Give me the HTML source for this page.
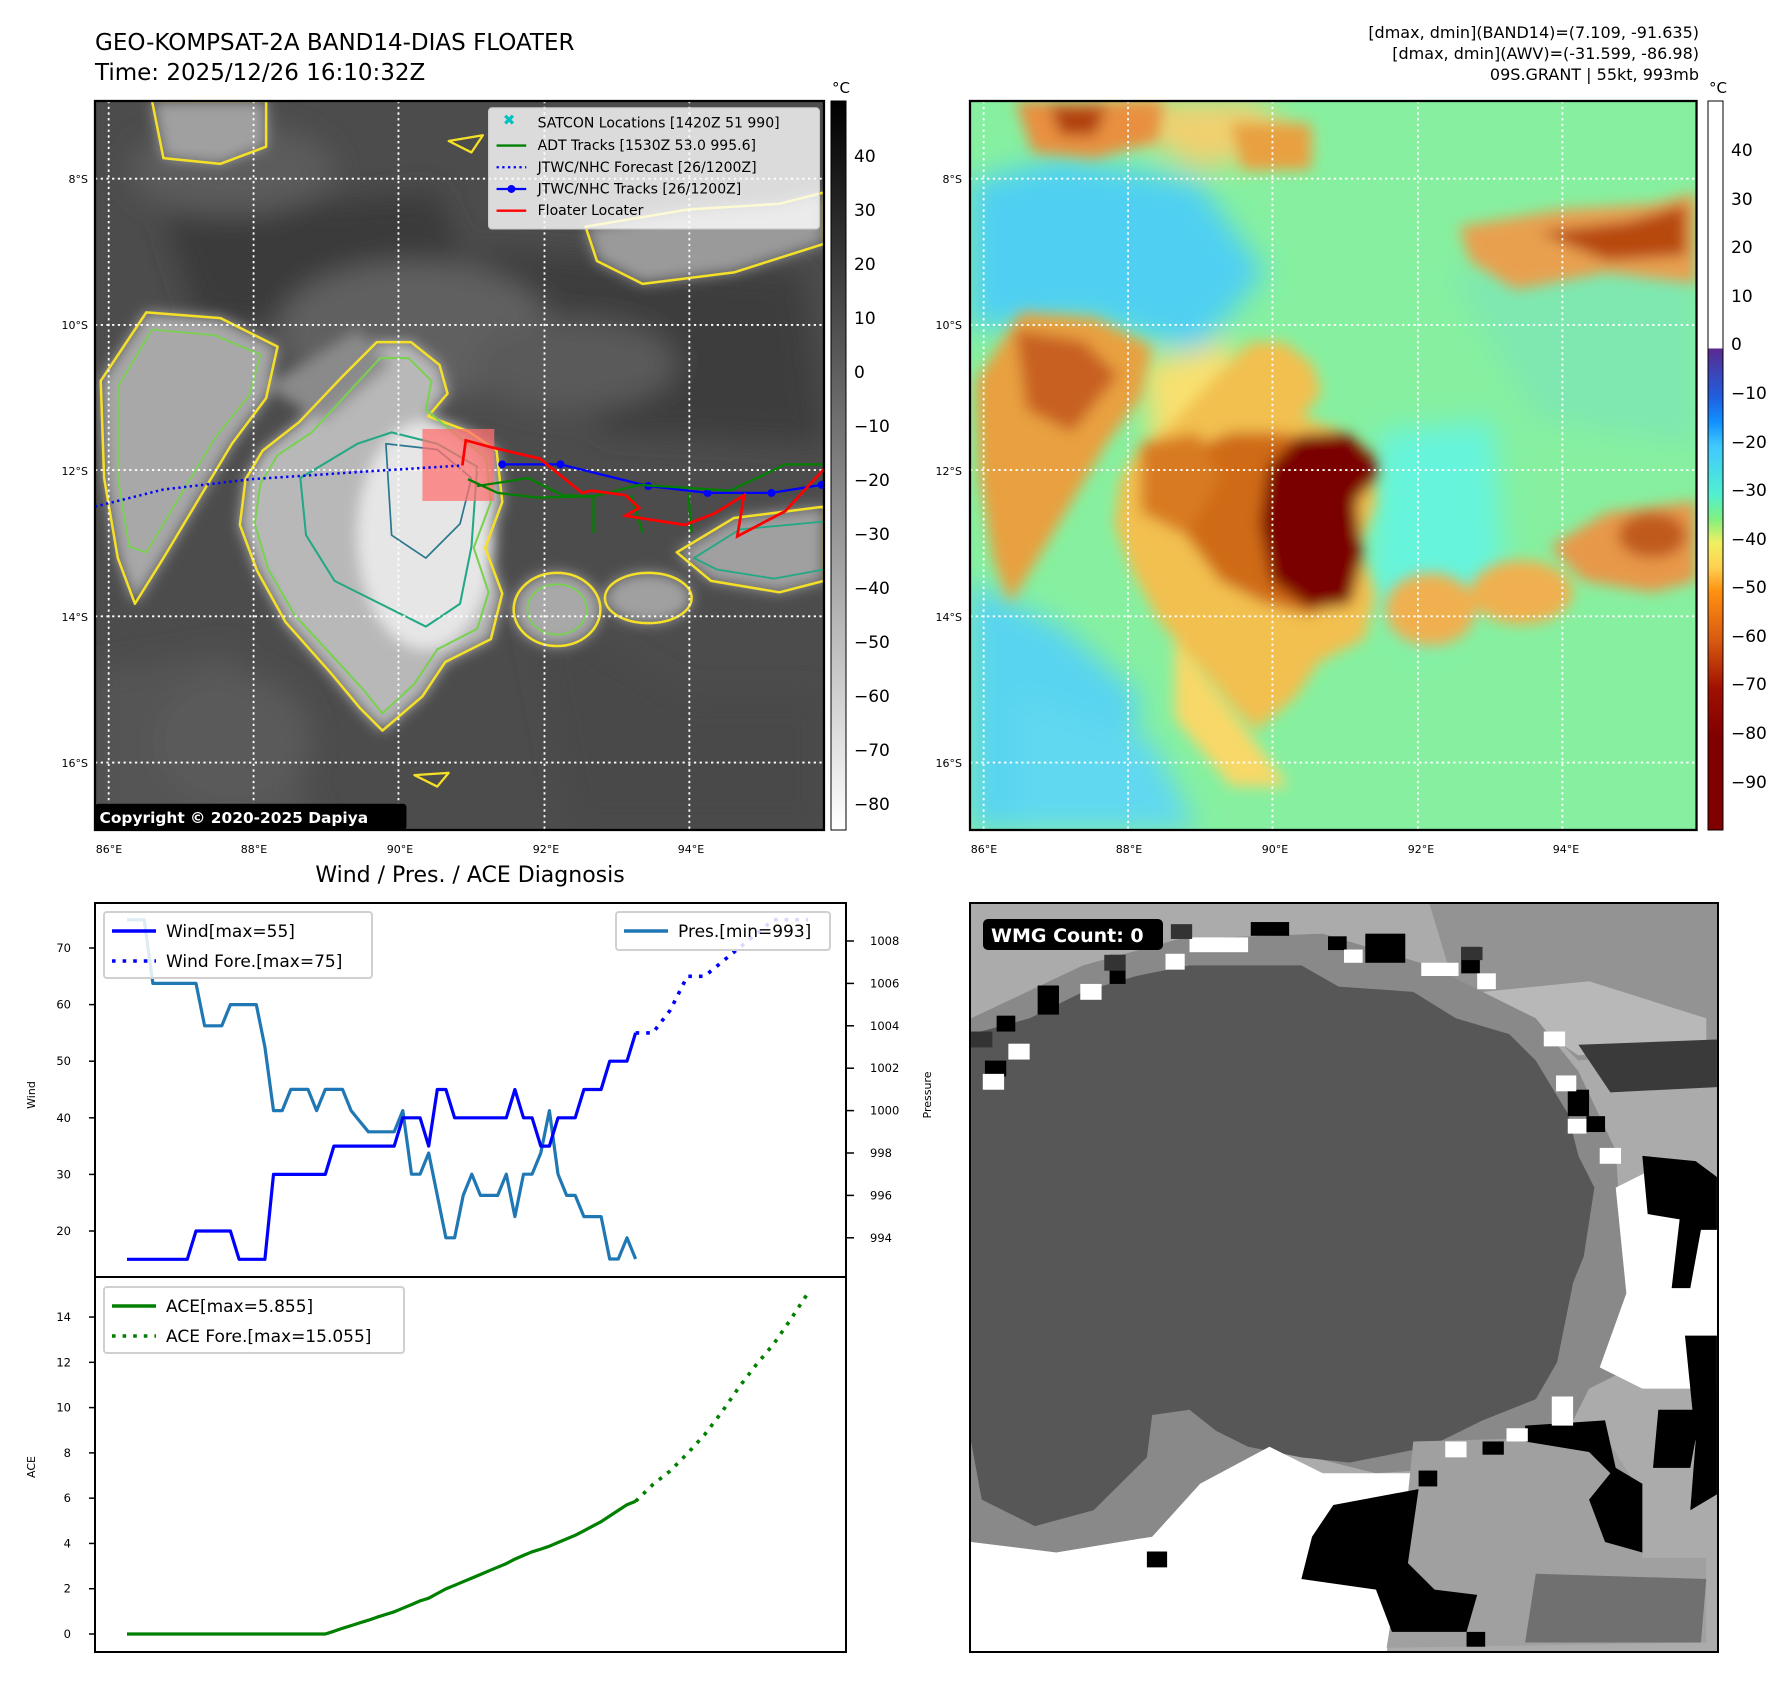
<!DOCTYPE html>
<html><head><meta charset="utf-8">
<style>
html,body{margin:0;padding:0;background:#fff;}
svg{display:block;font-family:"DejaVu Sans","Liberation Sans",sans-serif;}
</style></head>
<body>
<svg id="root" width="1788" height="1690" viewBox="0 0 1788 1690" xmlns="http://www.w3.org/2000/svg">
<defs>
  <filter id="soft" x="-20%" y="-20%" width="140%" height="140%"><feGaussianBlur stdDeviation="6"/></filter>
  <filter id="soft2" x="-20%" y="-20%" width="140%" height="140%"><feGaussianBlur stdDeviation="12"/></filter>
  <linearGradient id="cbarGray" x1="0" y1="1" x2="0" y2="0">
    <stop offset="0" stop-color="#ffffff"/><stop offset="1" stop-color="#000000"/>
  </linearGradient>
  <linearGradient id="cbarColor" x1="0" y1="0" x2="0" y2="1">
    <stop offset="0" stop-color="#ffffff"/>
    <stop offset="0.339" stop-color="#ffffff"/>
    <stop offset="0.34" stop-color="#5a2a90"/>
    <stop offset="0.406" stop-color="#1f5fe0"/>
    <stop offset="0.44" stop-color="#1090ff"/>
    <stop offset="0.473" stop-color="#40c8ff"/>
    <stop offset="0.54" stop-color="#50f0d0"/>
    <stop offset="0.573" stop-color="#80f080"/>
    <stop offset="0.606" stop-color="#f0f060"/>
    <stop offset="0.64" stop-color="#ffd050"/>
    <stop offset="0.673" stop-color="#ff9010"/>
    <stop offset="0.74" stop-color="#d85a10"/>
    <stop offset="0.806" stop-color="#a01000"/>
    <stop offset="0.873" stop-color="#800000"/>
    <stop offset="1" stop-color="#800000"/>
  </linearGradient>
  <clipPath id="mapClip"><rect x="0" y="0" width="639" height="638"/></clipPath>
  <clipPath id="wmgClip"><rect x="38" y="82" width="1404" height="1416"/></clipPath>
</defs>

<!-- Titles -->
<text x="95" y="50" font-size="23">GEO-KOMPSAT-2A BAND14-DIAS FLOATER</text>
<text x="95" y="80" font-size="23">Time: 2025/12/26 16:10:32Z</text>
<g font-size="16" text-anchor="end">
  <text x="1699" y="38">[dmax, dmin](BAND14)=(7.109, -91.635)</text>
  <text x="1699" y="59">[dmax, dmin](AWV)=(-31.599, -86.98)</text>
  <text x="1699" y="80">09S.GRANT | 55kt, 993mb</text>
</g>

<!-- LEFT MAP -->
<g transform="translate(95,101) scale(1.1408,1.1426)">
  <g clip-path="url(#mapClip)">
    <rect x="0" y="0" width="639" height="638" fill="#4c4c4c"/>
    <g filter="url(#soft2)">
      <path d="M60,100 L300,80 L340,180 L200,200 L90,190 Z" fill="#3a3a3a"/>
      <path d="M330,130 L620,150 L639,300 L450,290 L380,220 Z" fill="#3c3c3c"/>
      <path d="M0,500 L120,480 L200,638 L0,638 Z" fill="#555"/>
      <path d="M380,440 L520,520 L639,520 L639,638 L420,638 Z" fill="#484848"/>
      <ellipse cx="280" cy="200" rx="120" ry="60" fill="#606060"/>
      <ellipse cx="120" cy="60" rx="90" ry="40" fill="#5c5c5c"/>
      <ellipse cx="420" cy="230" rx="90" ry="40" fill="#5a5a5a"/>
      <ellipse cx="120" cy="560" rx="70" ry="60" fill="#5a5a5a"/>
    </g>
    <g filter="url(#soft)">
      <path d="M147,306 L179,281 L217,241 L247,211 L277,211 L302,231 L309,256 L292,276 L327,289 L352,306 L357,351 L342,391 L357,431 L347,471 L307,491 L287,521 L252,551 L232,531 L207,501 L167,456 L142,411 L127,371 L132,331 Z" fill="#b8b8b8"/>
      <ellipse cx="290" cy="380" rx="60" ry="100" fill="#e6e6e6"/>
      <path d="M5,245 L45,185 L110,190 L160,215 L150,260 L120,300 L90,350 L60,400 L35,440 L20,400 L8,330 Z" fill="#a8a8a8"/>
      <path d="M50,0 L150,0 L150,40 L110,55 L60,50 Z" fill="#a0a0a0"/>
      <path d="M430,110 L520,95 L600,90 L639,80 L639,125 L560,150 L480,160 L440,140 Z" fill="#9a9a9a"/>
      <ellipse cx="405" cy="445" rx="38" ry="32" fill="#a8a8a8"/>
      <ellipse cx="485" cy="435" rx="38" ry="22" fill="#a0a0a0"/>
      <path d="M510,395 L560,365 L639,355 L639,420 L600,430 L540,420 Z" fill="#a0a0a0"/>
      <path d="M150,250 L230,200 L260,230 L200,280 Z" fill="#8a8a8a"/>
    </g>
    <g fill="none" stroke-linejoin="round">
      <path d="M147,306 L179,281 L217,241 L247,211 L277,211 L302,231 L309,256 L292,276 L327,289 L352,306 L357,351 L342,391 L357,431 L347,471 L307,491 L287,521 L252,551 L232,531 L207,501 L167,456 L142,411 L127,371 L132,331 Z" stroke="#f5e028" stroke-width="2.2"/>
      <path d="M160,310 L190,290 L225,252 L250,225 L275,225 L295,245 L290,270 L320,295 L343,312 L347,351 L332,391 L345,430 L335,462 L300,480 L280,510 L252,536 L235,515 L212,490 L175,450 L152,410 L140,370 L145,335 Z" stroke="#7ad151" stroke-width="1.8"/>
      <path d="M180,330 L230,300 L260,290 L300,300 L335,320 L330,390 L320,440 L290,460 L250,440 L210,420 L185,380 Z" stroke="#22a884" stroke-width="1.8"/>
      <path d="M255,300 L300,305 L330,330 L320,370 L290,400 L260,380 Z" stroke="#2a788e" stroke-width="1.5"/>
      <path d="M5,245 L45,185 L110,190 L160,215 L150,260 L120,300 L90,350 L60,400 L35,440 L20,400 L8,330 Z" stroke="#f5e028" stroke-width="2.2"/>
      <path d="M20,250 L50,200 L105,205 L145,222 L135,258 L105,295 L75,345 L45,395 L30,390 L20,330 Z" stroke="#7ad151" stroke-width="1.6"/>
      <path d="M50,0 L150,0 L150,40 L110,55 L60,50 Z" stroke="#f5e028" stroke-width="2.2"/>
      <path d="M430,110 L520,95 L600,90 L639,80 L639,125 L560,150 L480,160 L440,140 Z" stroke="#f5e028" stroke-width="2.2"/>
      <ellipse cx="405" cy="445" rx="38" ry="32" stroke="#f5e028" stroke-width="2.2"/>
      <ellipse cx="405" cy="445" rx="26" ry="22" stroke="#7ad151" stroke-width="1.6"/>
      <ellipse cx="485" cy="435" rx="38" ry="22" stroke="#f5e028" stroke-width="2.2"/>
      <path d="M510,395 L560,365 L639,355 L639,420 L600,430 L540,420 Z" stroke="#f5e028" stroke-width="2.2"/>
      <path d="M525,400 L565,375 L639,368 L639,410 L595,418 L545,410 Z" stroke="#22a884" stroke-width="1.6"/>
      <path d="M310,35 L340,30 L330,45 Z" stroke="#f5e028" stroke-width="2"/>
      <path d="M280,590 L310,588 L300,600 Z" stroke="#f5e028" stroke-width="2"/>
    </g>
    <g stroke="#fff" stroke-width="1.6" stroke-dasharray="2,3">
      <line x1="12" y1="0" x2="12" y2="638"/><line x1="139" y1="0" x2="139" y2="638"/><line x1="266" y1="0" x2="266" y2="638"/><line x1="394" y1="0" x2="394" y2="638"/><line x1="521" y1="0" x2="521" y2="638"/>
      <line x1="0" y1="68" x2="639" y2="68"/><line x1="0" y1="196" x2="639" y2="196"/><line x1="0" y1="323" x2="639" y2="323"/><line x1="0" y1="451" x2="639" y2="451"/><line x1="0" y1="579" x2="639" y2="579"/>
    </g>
    <rect x="287" y="287" width="63" height="63" fill="#ff7070" fill-opacity="0.75"/>
    <path d="M0,355 L60,340 L137,331 L257,323 L322,319" fill="none" stroke="#0000ff" stroke-width="2.2" stroke-dasharray="2,3"/>
    <path d="M357,318 L408,318 L485,337 L537,343 L593,343 L637,336" fill="none" stroke="#0000ff" stroke-width="2"/>
    <g fill="#0000ff"><circle cx="357" cy="318" r="3.5"/><circle cx="408" cy="318" r="3.5"/><circle cx="485" cy="337" r="3.5"/><circle cx="537" cy="343" r="3.5"/><circle cx="593" cy="343" r="3.5"/><circle cx="637" cy="336" r="3.5"/></g>
    <path d="M327,331 L353,343 L387,347 L437,346 L477,336 L557,341 L605,318 L639,318 M335,337 L380,330 L410,345 L437,346 L437,378 M470,345 L480,378 M520,343 L523,378" fill="none" stroke="#008000" stroke-width="2"/>
    <path d="M322,319 L325,297 L347,303 L390,313 L427,343 L435,341 L465,345 L477,356 L465,363 L517,371 L543,361 L569,345 L563,381 L605,359 L639,322" fill="none" stroke="#ff0000" stroke-width="2.4"/>
    <g>
      <rect x="345" y="6" width="290" height="106" rx="3" fill="#fff" fill-opacity="0.8" stroke="#ccc"/>
      <g font-size="12.3">
        <text x="363" y="21" fill="#00c0c0" font-weight="bold" text-anchor="middle" font-size="13">✖</text>
        <text x="388" y="23">SATCON Locations [1420Z 51 990]</text>
        <line x1="352" y1="39" x2="378" y2="39" stroke="#008000" stroke-width="2"/>
        <text x="388" y="43">ADT Tracks [1530Z 53.0 995.6]</text>
        <line x1="352" y1="58" x2="378" y2="58" stroke="#0000ff" stroke-width="2" stroke-dasharray="2,3"/>
        <text x="388" y="62">JTWC/NHC Forecast [26/1200Z]</text>
        <line x1="352" y1="77" x2="378" y2="77" stroke="#0000ff" stroke-width="2"/><circle cx="365" cy="77" r="3.5" fill="#0000ff"/>
        <text x="388" y="81">JTWC/NHC Tracks [26/1200Z]</text>
        <line x1="352" y1="96" x2="378" y2="96" stroke="#ff0000" stroke-width="2"/>
        <text x="388" y="100">Floater Locater</text>
      </g>
    </g>
    <rect x="0" y="615" width="273" height="23" rx="3" fill="#000"/>
    <text x="4" y="632" fill="#fff" font-size="13.5" font-weight="bold">Copyright © 2020-2025 Dapiya</text>
  </g>
  <rect x="0" y="0" width="639" height="638" fill="none" stroke="#000" stroke-width="2"/>
</g>

<g font-size="11" text-anchor="end">
  <text x="88" y="183">8°S</text><text x="88" y="329">10°S</text><text x="88" y="475">12°S</text><text x="88" y="621">14°S</text><text x="88" y="767">16°S</text>
</g>
<g font-size="11" text-anchor="middle">
  <text x="109" y="853">86°E</text><text x="254" y="853">88°E</text><text x="400" y="853">90°E</text><text x="546" y="853">92°E</text><text x="691" y="853">94°E</text>
</g>
<g>
  <rect x="831" y="101" width="15" height="729" fill="url(#cbarGray)" stroke="#000" stroke-width="1"/>
  <text x="841" y="93" font-size="15" text-anchor="middle">°C</text>
  <g font-size="17">
    <text x="854" y="162">40</text><text x="854" y="216">30</text><text x="854" y="270">20</text><text x="854" y="324">10</text><text x="854" y="378">0</text>
    <text x="854" y="432">−10</text><text x="854" y="486">−20</text><text x="854" y="540">−30</text><text x="854" y="594">−40</text><text x="854" y="648">−50</text>
    <text x="854" y="702">−60</text><text x="854" y="756">−70</text><text x="854" y="810">−80</text>
  </g>
</g>

<!-- RIGHT MAP -->
<g transform="translate(970,101) scale(1.137,1.1426)">
  <g clip-path="url(#mapClip)">
    <rect x="0" y="0" width="639" height="638" fill="#86f0a0"/>
    <g filter="url(#soft2)">
      <path d="M0,70 L80,50 L200,70 L260,150 L200,220 L100,190 L0,200 Z" fill="#50d0f2"/>
      <path d="M0,420 L80,460 L150,520 L130,638 L0,638 Z" fill="#58d4f0"/>
      <path d="M40,520 L160,560 L200,638 L40,638 Z" fill="#60d8f0"/>
      <path d="M360,290 L460,280 L470,420 L400,480 L350,430 Z" fill="#66f4dc"/>
      <path d="M420,150 L639,120 L639,300 L500,280 Z" fill="#7ee8b0"/>
      <path d="M150,230 L230,210 L260,300 L200,340 L160,300 Z" fill="#f8e070"/>
      <path d="M100,0 L250,0 L300,40 L200,60 Z" fill="#f0d070"/>
    </g>
    <g filter="url(#soft)">
      <path d="M147,306 L179,281 L217,241 L247,211 L277,211 L302,231 L309,256 L292,276 L327,289 L352,306 L357,351 L342,391 L357,431 L347,471 L307,491 L287,521 L252,551 L232,531 L207,501 L167,456 L142,411 L127,371 L132,331 Z" fill="#f2c050"/>
      <path d="M180,310 L230,290 L270,290 L330,300 L340,360 L330,420 L300,450 L260,440 L220,420 L190,380 Z" fill="#cf6a18"/>
      <path d="M150,300 L200,290 L220,330 L190,380 L150,360 Z" fill="#d87a20"/>
      <path d="M262,320 L290,292 L330,290 L355,310 L358,330 L340,350 L345,400 L335,440 L300,445 L265,420 L255,370 Z" fill="#7a0000"/>
      <path d="M5,245 L45,185 L110,190 L160,215 L150,260 L120,300 L90,350 L60,400 L35,440 L20,400 L8,330 Z" fill="#e8a040"/>
      <path d="M40,200 L100,210 L130,240 L90,290 L50,270 Z" fill="#c86020"/>
      <path d="M40,0 L170,0 L165,35 L110,50 L55,45 Z" fill="#e89040"/>
      <path d="M70,5 L120,5 L110,30 L80,30 Z" fill="#b04010"/>
      <path d="M230,20 L300,20 L300,60 L240,60 Z" fill="#e8a040"/>
      <path d="M430,110 L520,95 L600,90 L639,80 L639,160 L560,150 L480,165 L440,140 Z" fill="#e8a050"/>
      <path d="M500,115 L580,105 L630,90 L630,135 L560,140 Z" fill="#b84a10"/>
      <ellipse cx="405" cy="445" rx="40" ry="32" fill="#f0b050"/>
      <ellipse cx="485" cy="430" rx="45" ry="28" fill="#f0b050"/>
      <path d="M510,390 L560,360 L639,350 L639,420 L600,430 L540,420 Z" fill="#e89848"/>
      <ellipse cx="600" cy="380" rx="30" ry="20" fill="#c05a1a"/>
      <path d="M180,470 L250,560 L280,600 L230,600 L180,540 Z" fill="#f8d868"/>
    </g>
    <g stroke="#fff" stroke-width="1.6" stroke-dasharray="2,3">
      <line x1="12" y1="0" x2="12" y2="638"/><line x1="139" y1="0" x2="139" y2="638"/><line x1="266" y1="0" x2="266" y2="638"/><line x1="394" y1="0" x2="394" y2="638"/><line x1="521" y1="0" x2="521" y2="638"/>
      <line x1="0" y1="68" x2="639" y2="68"/><line x1="0" y1="196" x2="639" y2="196"/><line x1="0" y1="323" x2="639" y2="323"/><line x1="0" y1="451" x2="639" y2="451"/><line x1="0" y1="579" x2="639" y2="579"/>
    </g>
  </g>
  <rect x="0" y="0" width="639" height="638" fill="none" stroke="#000" stroke-width="2"/>
</g>
<g font-size="11" text-anchor="end">
  <text x="962" y="183">8°S</text><text x="962" y="329">10°S</text><text x="962" y="475">12°S</text><text x="962" y="621">14°S</text><text x="962" y="767">16°S</text>
</g>
<g font-size="11" text-anchor="middle">
  <text x="984" y="853">86°E</text><text x="1129" y="853">88°E</text><text x="1275" y="853">90°E</text><text x="1421" y="853">92°E</text><text x="1566" y="853">94°E</text>
</g>
<g>
  <rect x="1708" y="101" width="15" height="729" fill="url(#cbarColor)" stroke="#000" stroke-width="1"/>
  <text x="1718" y="93" font-size="15" text-anchor="middle">°C</text>
  <g font-size="17">
    <text x="1731" y="156">40</text><text x="1731" y="205">30</text><text x="1731" y="253">20</text><text x="1731" y="302">10</text><text x="1731" y="350">0</text>
    <text x="1731" y="399">−10</text><text x="1731" y="448">−20</text><text x="1731" y="496">−30</text><text x="1731" y="545">−40</text><text x="1731" y="593">−50</text>
    <text x="1731" y="642">−60</text><text x="1731" y="690">−70</text><text x="1731" y="739">−80</text><text x="1731" y="788">−90</text>
  </g>
</g>

<!-- BOTTOM LEFT: diagnosis -->
<text x="470" y="882" font-size="22" text-anchor="middle">Wind / Pres. / ACE Diagnosis</text>
<g id="diag"></g>

<!-- BOTTOM RIGHT: WMG -->
<g>
<svg x="970" y="903" width="748" height="749" viewBox="38 82 1404 1416" preserveAspectRatio="none">
  <g clip-path="url(#wmgClip)">
    <rect x="38" y="82" width="1404" height="1416" fill="#ababab"/>
    <path d="M900,82 L1442,82 L1442,350 L1180,380 L1100,300 L950,250 Z" fill="#939393"/>
    <path d="M1000,250 L1200,230 L1420,300 L1420,350 L1180,370 Z" fill="#b8b8b8"/>
    <path d="M1180,350 L1440,340 L1440,430 L1240,440 Z" fill="#3a3a3a"/>
    <path d="M40,300 L250,200 L430,150 L700,140 L900,200 L1100,300 L1180,400 L1250,550 L1260,700 L1280,850 L1300,950 L1200,1000 L1150,1100 L950,1150 L800,1160 L600,1110 L470,1180 L380,1280 L200,1310 L40,1290 Z" fill="#898989"/>
    <path d="M40,330 L150,300 L250,250 L350,220 L450,200 L660,200 L730,240 L870,250 L950,300 L1050,330 L1100,380 L1130,430 L1160,480 L1180,560 L1210,620 L1190,750 L1170,800 L1140,950 L1100,1020 L1000,1060 L900,1110 L750,1140 L660,1130 L560,1110 L500,1080 L450,1040 L380,1050 L370,1130 L270,1230 L160,1260 L60,1210 L40,1100 Z" fill="#575757"/>
    <path d="M1250,620 L1330,580 L1440,600 L1440,1000 L1300,1000 L1220,960 L1270,820 Z" fill="#ffffff"/>
    <path d="M1300,560 L1400,570 L1440,600 L1440,700 L1410,700 L1390,810 L1355,810 L1370,680 L1310,670 Z" fill="#000"/>
    <path d="M1380,900 L1440,900 L1440,1200 L1390,1230 L1400,1100 Z" fill="#000"/>
    <path d="M40,1290 L200,1310 L380,1280 L470,1180 L600,1110 L700,1160 L880,1160 L820,1498 L38,1498 Z" fill="#ffffff"/>
    <path d="M870,1100 L1230,1090 L1300,1200 L1300,1320 L1420,1320 L1420,1480 L820,1490 L850,1300 Z" fill="#a0a0a0"/>
    <path d="M1100,1350 L1420,1360 L1410,1480 L1080,1480 Z" fill="#707070"/>
    <path d="M720,1220 L880,1190 L860,1330 L910,1380 L990,1390 L970,1460 L830,1460 L800,1380 L660,1360 L680,1280 Z" fill="#000"/>
    <path d="M1080,1070 L1230,1060 L1250,1150 L1300,1180 L1300,1310 L1230,1290 L1200,1210 L1240,1160 L1200,1120 L1080,1100 Z" fill="#000"/>
    <path d="M1330,1040 L1410,1040 L1390,1150 L1320,1150 Z" fill="#000"/>
    <g fill="#000">
      <rect x="565" y="118" width="72" height="26"/><rect x="710" y="145" width="35" height="26"/><rect x="780" y="140" width="75" height="55"/><rect x="300" y="180" width="30" height="55"/><rect x="165" y="238" width="40" height="55"/><rect x="88" y="295" width="35" height="30"/><rect x="66" y="380" width="40" height="30"/><rect x="960" y="165" width="35" height="50"/><rect x="1160" y="435" width="40" height="50"/><rect x="1195" y="485" width="35" height="30"/><rect x="1000" y="1100" width="40" height="25"/><rect x="370" y="1308" width="38" height="30"/><rect x="970" y="1460" width="35" height="28"/><rect x="880" y="1155" width="35" height="30"/>
    </g>
    <g fill="#fff">
      <rect x="450" y="147" width="110" height="28"/><rect x="740" y="170" width="35" height="25"/><rect x="885" y="195" width="70" height="25"/><rect x="990" y="215" width="35" height="30"/><rect x="405" y="178" width="36" height="30"/><rect x="245" y="235" width="40" height="30"/><rect x="110" y="348" width="40" height="30"/><rect x="62" y="405" width="40" height="30"/><rect x="1115" y="325" width="40" height="28"/><rect x="1138" y="408" width="38" height="30"/><rect x="1160" y="490" width="35" height="28"/><rect x="1220" y="545" width="40" height="30"/><rect x="1130" y="1015" width="40" height="55"/><rect x="930" y="1100" width="40" height="30"/><rect x="1045" y="1075" width="40" height="25"/>
    </g>
    <g fill="#333"><rect x="415" y="122" width="40" height="28"/><rect x="290" y="180" width="40" height="30"/><rect x="40" y="325" width="40" height="30"/><rect x="960" y="165" width="40" height="25"/></g>
  </g>
</svg>
<rect x="970" y="903" width="748" height="749" fill="none" stroke="#000" stroke-width="2"/>
<rect x="983" y="919" width="180" height="31" rx="5" fill="#000"/>
<text x="991" y="942" fill="#fff" font-size="19" font-weight="bold">WMG Count: 0</text>
</g>

<script>
// ---- chart data (time index = 6-hourly step) ----
const windIdx = [0,1,2,3,4,5,6,7,8,9,10,11,12,13,14,15,16,17,18,19,20,21,22,23,24,25,26,27,28,29,30,31,32,33,34,35,36,37,38,39,40,41,42,43,44,45,46,47,48,49,50,51,52,53,54,55,56,57,58,59];
const windVals = [15,15,15,15,15,15,15,15,20,20,20,20,20,15,15,15,15,30,30,30,30,30,30,30,35,35,35,35,35,35,35,35,40,40,40,35,45,45,40,40,40,40,40,40,40,45,40,40,35,35,40,40,40,45,45,45,50,50,50,55];
const presVals = [1009,1009,1009,1006,1006,1006,1006,1006,1006,1004,1004,1004,1005,1005,1005,1005,1003,1000,1000,1001,1001,1001,1000,1001,1001,1001,1000,999.5,999,999,999,999,1000,997,997,998,996,994,994,996,997,996,996,996,997,995,997,997,998,1000,997,996,996,995,995,995,993,993,994,993];
const foreIdx = [59,61,63,65,67,69,71,73,75,77,79];
const windFore = [55,55,59,65,65,67.5,70,72.5,75,75,75];
const aceVals = [0,0,0,0,0,0,0,0,0,0,0,0,0,0,0,0,0,0,0,0,0,0,0,0,0.12,0.25,0.37,0.49,0.61,0.74,0.86,0.98,1.14,1.3,1.46,1.58,1.79,1.99,2.15,2.31,2.47,2.63,2.79,2.95,3.11,3.31,3.47,3.63,3.75,3.88,4.04,4.2,4.36,4.56,4.76,4.96,5.21,5.46,5.71,5.86];
const aceFore = [5.86,6.6,7.2,7.97,8.8,9.8,10.9,11.9,12.8,13.9,15.06];
const windTicks = [20,30,40,50,60,70];
const presTicks = [994,996,998,1000,1002,1004,1006,1008];
const aceTicks = [0,2,4,6,8,10,12,14];

const NS = 'http://www.w3.org/2000/svg';
const diag = document.getElementById('diag');
const X0 = 95, X1 = 846, TOP = 903, MID = 1277, BOT = 1652;
const xs = i => 127 + i * 8.62;
const yWind = w => 948 + (70 - w) * 5.66;
const yPres = p => 941 + (1008 - p) * 21.2;
const yAce = a => 1634 - a * 22.64;

function mk(tag, attrs, parent) {
  const e = document.createElementNS(NS, tag);
  for (const k in attrs) e.setAttribute(k, attrs[k]);
  (parent || diag).appendChild(e);
  return e;
}
function pts(idx, vals, fy) { return idx.map((i, k) => xs(i).toFixed(1) + ',' + fy(vals[k]).toFixed(1)).join(' '); }

let el;
el = mk('polyline', {points: pts(windIdx, presVals, yPres), fill: 'none', stroke: '#1f77b4', 'stroke-width': 3.2, 'stroke-linejoin': 'round'});


el = mk('polyline', {points: pts(windIdx, windVals, yWind), fill: 'none', stroke: '#0000ff', 'stroke-width': 3.2, 'stroke-linejoin': 'round'});


el = mk('polyline', {points: pts(foreIdx, windFore, yWind), fill: 'none', stroke: '#0000ff', 'stroke-width': 3.6, 'stroke-dasharray': '3.6,7'});


el = mk('polyline', {points: pts(windIdx, aceVals, yAce), fill: 'none', stroke: '#008000', 'stroke-width': 3.2, 'stroke-linejoin': 'round'});


el = mk('polyline', {points: pts(foreIdx, aceFore, yAce), fill: 'none', stroke: '#008000', 'stroke-width': 3.6, 'stroke-dasharray': '3.6,7'});



windTicks.forEach(t => {
  const y = yWind(t);
  mk('line', {x1: X0 - 6, x2: X0, y1: y, y2: y, stroke: '#000', 'stroke-width': 1.5});
  const tx = mk('text', {x: X0 - 24, y: y + 4, 'font-size': 11.5, 'text-anchor': 'end'});
  tx.textContent = t;
  
  
});
presTicks.forEach(t => {
  const y = yPres(t);
  mk('line', {x1: X1, x2: X1 + 8, y1: y, y2: y, stroke: '#000', 'stroke-width': 1.5});
  const tx = mk('text', {x: X1 + 24, y: y + 4, 'font-size': 11.5});
  tx.textContent = t;
  
  
});
aceTicks.forEach(t => {
  const y = yAce(t);
  mk('line', {x1: X0 - 6, x2: X0, y1: y, y2: y, stroke: '#000', 'stroke-width': 1.5});
  const tx = mk('text', {x: X0 - 24, y: y + 4, 'font-size': 11.5, 'text-anchor': 'end'});
  tx.textContent = t;
  
  
});

el = mk('rect', {x: X0, y: TOP, width: X1 - X0, height: MID - TOP, fill: 'none', stroke: '#000', 'stroke-width': 2});


el = mk('rect', {x: X0, y: MID, width: X1 - X0, height: BOT - MID, fill: 'none', stroke: '#000', 'stroke-width': 2});



el = mk('text', {x: 0, y: 0, 'font-size': 11, 'text-anchor': 'middle', transform: 'translate(35,1095) rotate(-90)'});
el.textContent = 'Wind';


el = mk('text', {x: 0, y: 0, 'font-size': 11, 'text-anchor': 'middle', transform: 'translate(931,1095) rotate(-90)'});
el.textContent = 'Pressure';


el = mk('text', {x: 0, y: 0, 'font-size': 11, 'text-anchor': 'middle', transform: 'translate(35,1467) rotate(-90)'});
el.textContent = 'ACE';



function legend(x, y, w, h, items, name) {
  const g = mk('g', {});
  
  
  mk('rect', {x: x, y: y, width: w, height: h, rx: 3, fill: '#fff', 'fill-opacity': 0.85, stroke: '#d0d0d0', 'stroke-width': 2}, g);
  items.forEach((it, k) => {
    const yy = y + 19 + k * 30;
    const ln = mk('line', {x1: x + 8, x2: x + 52, y1: yy, y2: yy, stroke: it.c, 'stroke-width': 3.6}, g);
    if (it.d) ln.setAttribute('stroke-dasharray', '3.6,7');
    const t = mk('text', {x: x + 62, y: yy + 6, 'font-size': 17}, g);
    t.textContent = it.t;
  });
}
legend(104, 912, 268, 66, [{c: '#0000ff', t: 'Wind[max=55]'}, {c: '#0000ff', t: 'Wind Fore.[max=75]', d: 1}], 'wind-legend');
legend(616, 912, 214, 38, [{c: '#1f77b4', t: 'Pres.[min=993]'}], 'pressure-legend');
legend(104, 1287, 300, 66, [{c: '#008000', t: 'ACE[max=5.855]'}, {c: '#008000', t: 'ACE Fore.[max=15.055]', d: 1}], 'ace-legend');
</script>
</svg>
</body></html>
